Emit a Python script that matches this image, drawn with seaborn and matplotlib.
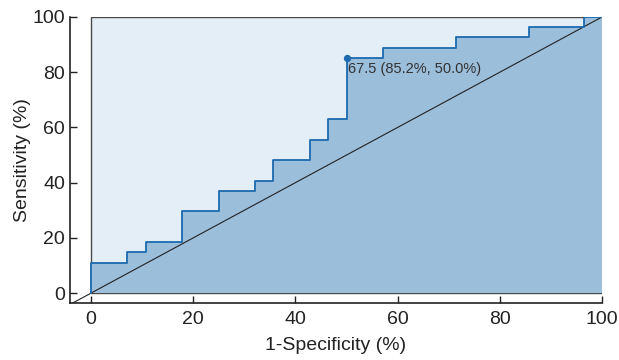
"""
ROC curve with step fill and optimal cut-off marker
"""

import matplotlib
matplotlib.use('Agg')
import matplotlib.pyplot as plt
from matplotlib.patches import Rectangle
import seaborn as sns

# 1-Specificity (%) and Sensitivity (%) breakpoints of the step curve
fpr = [0, 0, 7.1, 10.7, 17.9, 25.0, 32.1, 35.7, 42.9, 46.4, 50.0, 57.1, 71.4, 85.7, 96.4, 100]
tpr = [0, 11.1, 14.8, 18.5, 29.6, 37.0, 40.7, 48.1, 55.6, 63.0, 85.2, 88.9, 92.6, 96.3, 100, 100]

# optimal cut-off
cut_value = 67.5
cut_sens = 85.2
cut_fpr = 50.0

ticks = [0, 20, 40, 60, 80, 100]

sns.set_style('ticks')
plt.rcParams['font.family'] = ['Liberation Sans', 'DejaVu Sans']

fig = plt.figure(figsize=(6.19, 3.6), dpi=100)
ax = fig.add_axes([0.113, 0.158, 0.8597, 0.795])

line_color = '#1c6ab0'
area_color = '#9bbedb'
bg_color = '#e4eef6'

# light background box over the 0..100 square
ax.add_patch(Rectangle((0, 0), 100, 100, facecolor=bg_color, edgecolor='#4a4a4a',
                       linewidth=1.0, zorder=0))

# area under the curve
ax.fill_between(fpr, tpr, 0, step='post', color=area_color, linewidth=0, zorder=1)

# step curve
sns.lineplot(x=fpr, y=tpr, ax=ax, estimator=None, sort=False,
             drawstyle='steps-post', color=line_color, linewidth=1.3, zorder=3)

# reference diagonal, running out to the axis corner
ax.plot([-10, 100], [-10, 100], color='#222222', linewidth=0.8, zorder=2)

# cut-off point and label
ax.scatter([cut_fpr], [cut_sens], s=18, color=line_color, zorder=4)
ax.annotate(f'{cut_value} ({cut_sens:.1f}%, {cut_fpr:.1f}%)', xy=(cut_fpr, cut_sens),
            xytext=(1, -3), textcoords='offset points', ha='left', va='top',
            fontsize=10.5, color='#333333')

ax.set_xlim(-4.1, 100)
ax.set_ylim(-3.6, 100)
ax.set_xticks(ticks)
ax.set_yticks(ticks)
ax.tick_params(direction='in', length=5, width=1, labelsize=14, colors='#222222')
ax.tick_params(axis='x', pad=6)
ax.set_xlabel('1-Specificity (%)', fontsize=14, color='#222222', labelpad=6)
ax.set_ylabel('Sensitivity (%)', fontsize=14, color='#222222', labelpad=1)

for side in ['top', 'right']:
    ax.spines[side].set_visible(False)
for side in ['left', 'bottom']:
    ax.spines[side].set_linewidth(1.2)
    ax.spines[side].set_color('#222222')

plt.savefig('out.png', dpi=100)
plt.close()
